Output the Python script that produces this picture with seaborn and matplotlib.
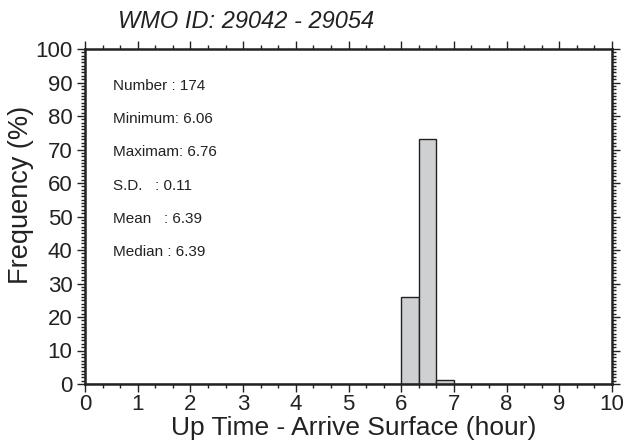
import matplotlib
matplotlib.use("Agg")
import matplotlib.pyplot as plt
from matplotlib.ticker import MultipleLocator
import seaborn as sns
import pandas as pd

# Data
bin_left = [6.0, 6.3333, 6.6667]          # left edges of non-empty bins (hours)
counts = [45, 127, 2]                       # floats per bin (total 174)
bin_edges = [i / 3 for i in range(0, 31)]   # 0..10 in 1/3 hour steps
stats_labels = ["Number : 174", "Minimum: 6.06", "Maximam: 6.76",
                "S.D.   : 0.11", "Mean   : 6.39", "Median : 6.39"]
title = "WMO ID: 29042 - 29054"
xlabel = "Up Time - Arrive Surface (hour)"
ylabel = "Frequency (%)"

sns.set_style("white")
plt.rcParams["font.family"] = ["Liberation Sans", "DejaVu Sans"]

df = pd.DataFrame({"x": [b + 0.1 for b in bin_left], "w": counts})

fig = plt.figure(figsize=(6.36, 4.45), dpi=100)
ax = fig.add_axes([85 / 636, 1 - 384 / 445, (612 - 85) / 636, (384 - 49) / 445])

sns.histplot(data=df, x="x", weights="w", bins=bin_edges, stat="percent",
             color="#cfd0d2", edgecolor="#222222", linewidth=1.0, alpha=1.0, ax=ax)

ax.set_xlim(0, 10)
ax.set_ylim(0, 100)
ax.xaxis.set_major_locator(MultipleLocator(1))
ax.xaxis.set_minor_locator(MultipleLocator(1 / 3))
ax.yaxis.set_major_locator(MultipleLocator(10))
ax.yaxis.set_minor_locator(MultipleLocator(1))
ax.tick_params(which="both", direction="out", top=True, right=True, bottom=True, left=True,
               labeltop=False, labelright=False, color="#222222", width=1.0)
ax.tick_params(which="major", length=6, labelsize=16, pad=3, labelcolor="#222222")
ax.tick_params(axis="x", which="major", pad=1.5)
ax.tick_params(which="minor", length=3)
for s in ax.spines.values():
    s.set_linewidth(1.8)
    s.set_color("#222222")
    s.set_visible(True)

ax.set_xlabel(xlabel, fontsize=19, color="#222222", va="top")
ax.xaxis.set_label_coords((354 - 85) / 527, (384 - 416) / 335)
ax.set_ylabel(ylabel, fontsize=19.5, color="#222222", va="center", ha="center",
              rotation_mode="default")
ax.yaxis.set_label_coords((21 - 85) / 527, (384 - 195) / 335)

fig.text(118 / 636, 1 - 28 / 445, title, fontsize=17, style="italic",
         ha="left", va="baseline", color="#222222")

for i, t in enumerate(stats_labels):
    ax.text(113 / 636, 1 - (86 + i * 33.2) / 445, t, transform=fig.transFigure,
            fontsize=11, va="center", ha="left", color="#222222")

fig.savefig("out.png", dpi=100)
